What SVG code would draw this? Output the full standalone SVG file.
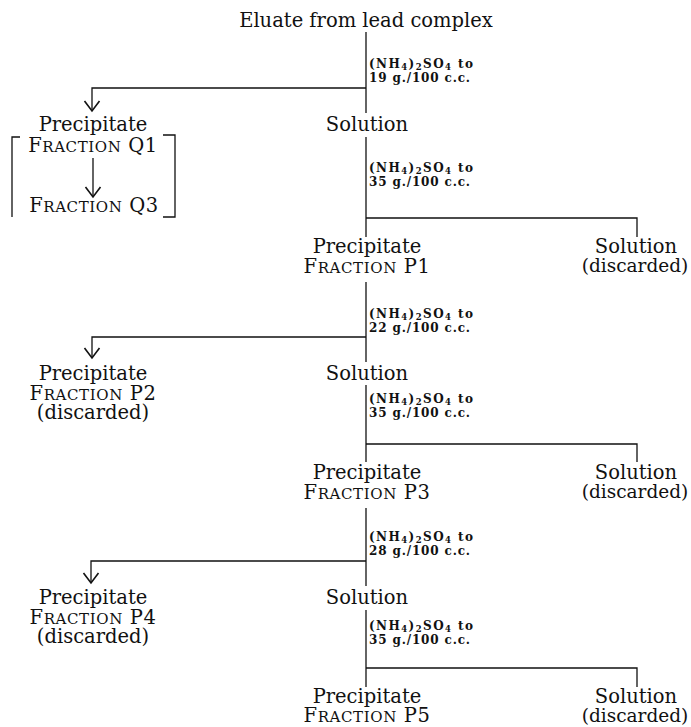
<svg xmlns="http://www.w3.org/2000/svg" width="691" height="727" viewBox="0 0 691 727">
<style>
.t{font-family:"DejaVu Serif","Liberation Serif",serif;font-size:19.5px;fill:#111;text-anchor:middle}
.d{font-size:18.5px}
.sc{font-size:15px}
.fr{letter-spacing:0.6px}
.lb{font-family:"DejaVu Serif","Liberation Serif",serif;font-size:12px;font-weight:bold;fill:#111}
.sub{font-size:8.5px}
.ln{fill:none;stroke:#111;stroke-width:1.3}
</style>
<defs>
<marker id="arr" markerUnits="userSpaceOnUse" markerWidth="20" markerHeight="20" refX="0" refY="0" orient="auto" viewBox="-10 -8 12 16" overflow="visible">
<path d="M-8,-6 L0,0 L-8,6" fill="none" stroke="#111" stroke-width="1.3"/>
</marker>
</defs>
<rect width="691" height="727" fill="#fff"/>
<g id="connectors">
<path class="ln" d="M366,32 V113"/>
<path class="ln" d="M366,88 H92 V111" marker-end="url(#arr)"/>
<path class="ln" d="M93,158 V197" marker-end="url(#arr)"/>
<path class="ln" d="M366,137 V237"/>
<path class="ln" d="M366,218 H637 V237"/>
<path class="ln" d="M366,282 V362"/>
<path class="ln" d="M366,337 H92 V358" marker-end="url(#arr)"/>
<path class="ln" d="M366,385 V462"/>
<path class="ln" d="M366,444 H637 V462"/>
<path class="ln" d="M366,508 V586"/>
<path class="ln" d="M366,561 H91 V583" marker-end="url(#arr)"/>
<path class="ln" d="M366,610 V687"/>
<path class="ln" d="M366,668 H637 V687"/>
</g>
<g id="edge-labels">
<text class="lb" x="369" y="68" textLength="104" lengthAdjust="spacing">(NH<tspan class="sub" dy="2">4</tspan><tspan dy="-2">)</tspan><tspan class="sub" dy="2">2</tspan><tspan dy="-2">SO</tspan><tspan class="sub" dy="2">4</tspan><tspan dy="-2"> to</tspan></text>
<text class="lb" x="369" y="82" textLength="101" lengthAdjust="spacing">19 g./100 c.c.</text>
<text class="lb" x="369" y="172" textLength="104" lengthAdjust="spacing">(NH<tspan class="sub" dy="2">4</tspan><tspan dy="-2">)</tspan><tspan class="sub" dy="2">2</tspan><tspan dy="-2">SO</tspan><tspan class="sub" dy="2">4</tspan><tspan dy="-2"> to</tspan></text>
<text class="lb" x="369" y="186" textLength="101" lengthAdjust="spacing">35 g./100 c.c.</text>
<text class="lb" x="369" y="318" textLength="104" lengthAdjust="spacing">(NH<tspan class="sub" dy="2">4</tspan><tspan dy="-2">)</tspan><tspan class="sub" dy="2">2</tspan><tspan dy="-2">SO</tspan><tspan class="sub" dy="2">4</tspan><tspan dy="-2"> to</tspan></text>
<text class="lb" x="369" y="332" textLength="101" lengthAdjust="spacing">22 g./100 c.c.</text>
<text class="lb" x="369" y="403" textLength="104" lengthAdjust="spacing">(NH<tspan class="sub" dy="2">4</tspan><tspan dy="-2">)</tspan><tspan class="sub" dy="2">2</tspan><tspan dy="-2">SO</tspan><tspan class="sub" dy="2">4</tspan><tspan dy="-2"> to</tspan></text>
<text class="lb" x="369" y="417" textLength="101" lengthAdjust="spacing">35 g./100 c.c.</text>
<text class="lb" x="369" y="541" textLength="104" lengthAdjust="spacing">(NH<tspan class="sub" dy="2">4</tspan><tspan dy="-2">)</tspan><tspan class="sub" dy="2">2</tspan><tspan dy="-2">SO</tspan><tspan class="sub" dy="2">4</tspan><tspan dy="-2"> to</tspan></text>
<text class="lb" x="369" y="555" textLength="101" lengthAdjust="spacing">28 g./100 c.c.</text>
<text class="lb" x="369" y="630" textLength="104" lengthAdjust="spacing">(NH<tspan class="sub" dy="2">4</tspan><tspan dy="-2">)</tspan><tspan class="sub" dy="2">2</tspan><tspan dy="-2">SO</tspan><tspan class="sub" dy="2">4</tspan><tspan dy="-2"> to</tspan></text>
<text class="lb" x="369" y="644" textLength="101" lengthAdjust="spacing">35 g./100 c.c.</text>
</g>
<g id="n-eluate"><text class="t" x="366" y="27">Eluate from lead complex</text></g>
<g id="n-q">
<text class="t" x="93" y="131">Precipitate</text>
<text class="t fr" x="93" y="152">F<tspan class="sc">RACTION</tspan> Q1</text>
<text class="t fr" x="94" y="212">F<tspan class="sc">RACTION</tspan> Q3</text>
<path class="ln" d="M20,137 H12 V217"/>
<path class="ln" d="M163,135 H175 V217 H163"/>
</g>
<g id="n-sol1"><text class="t" x="367" y="131">Solution</text></g>
<g id="n-p1">
<text class="t" x="367" y="253">Precipitate</text>
<text class="t fr" x="367" y="273">F<tspan class="sc">RACTION</tspan> P1</text>
</g>
<g id="n-disc1">
<text class="t" x="636" y="253">Solution</text>
<text class="t d" x="635" y="272">(discarded)</text>
</g>
<g id="n-p2">
<text class="t" x="93" y="380">Precipitate</text>
<text class="t fr" x="93" y="400">F<tspan class="sc">RACTION</tspan> P2</text>
<text class="t" x="93" y="419">(discarded)</text>
</g>
<g id="n-sol2"><text class="t" x="367" y="380">Solution</text></g>
<g id="n-p3">
<text class="t" x="367" y="479">Precipitate</text>
<text class="t fr" x="367" y="499">F<tspan class="sc">RACTION</tspan> P3</text>
</g>
<g id="n-disc2">
<text class="t" x="636" y="479">Solution</text>
<text class="t d" x="635" y="498">(discarded)</text>
</g>
<g id="n-p4">
<text class="t" x="93" y="604">Precipitate</text>
<text class="t fr" x="93" y="624">F<tspan class="sc">RACTION</tspan> P4</text>
<text class="t" x="93" y="643">(discarded)</text>
</g>
<g id="n-sol3"><text class="t" x="367" y="604">Solution</text></g>
<g id="n-p5">
<text class="t" x="367" y="703">Precipitate</text>
<text class="t fr" x="367" y="722">F<tspan class="sc">RACTION</tspan> P5</text>
</g>
<g id="n-disc3">
<text class="t" x="636" y="703">Solution</text>
<text class="t d" x="635" y="722">(discarded)</text>
</g>
</svg>
